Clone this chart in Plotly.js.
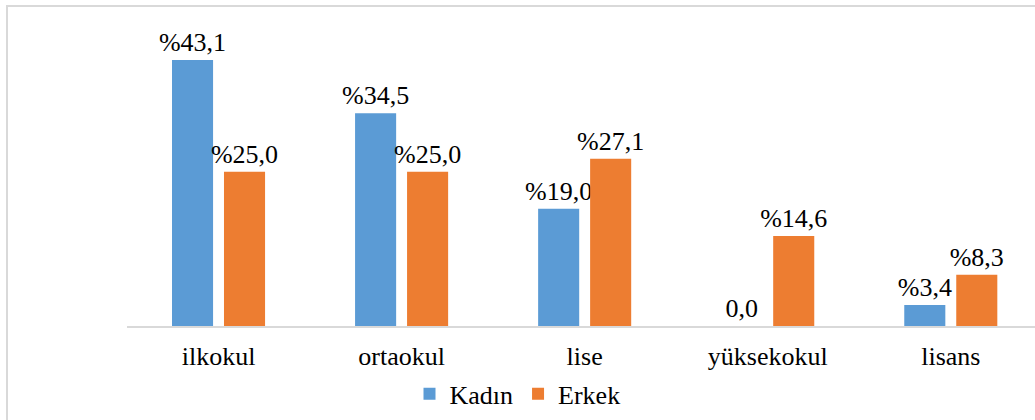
<!DOCTYPE html>
<html>
<head>
<meta charset="utf-8">
<script src="https://cdn.plot.ly/plotly-3.0.1.min.js"></script>
<style>
html,body{margin:0;padding:0;overflow:hidden;background:#fff;}
#wrap{position:relative;width:1035px;height:420px;overflow:hidden;}
#chart{position:absolute;left:0;top:0;width:1035px;height:420px;}
#frame{position:absolute;left:6px;top:5px;width:1100px;height:500px;border:2px solid #d9d9d9;pointer-events:none;box-sizing:border-box;}
</style>
</head>
<body>
<div id="wrap"><div id="chart"></div><div id="frame"></div></div>
<script>
const categories = ['ilkokul', 'ortaokul', 'lise', 'yüksekokul', 'lisans'];
const kadin = [43.1, 34.5, 19.0, 0.0, 3.4];
const erkek = [25.0, 25.0, 27.1, 14.6, 8.3];
const seriesNames = ['Kadın', 'Erkek'];

function lab(v){
  const s = v.toFixed(1).replace('.', ',');
  return v === 0 ? s : '%' + s;
}

const FONT = 'Times New Roman, Liberation Serif, serif';

const traces = [
  {type:'bar', name:seriesNames[0], x:categories, y:kadin, text:kadin.map(lab),
   textposition:'outside', constraintext:'none', textangle:0, cliponaxis:false, marker:{color:'#5B9BD5'},
   textfont:{family:FONT, size:26, color:'#000'}, hoverinfo:'none'},
  {type:'bar', name:seriesNames[1], x:categories, y:erkek, text:erkek.map(lab),
   textposition:'outside', constraintext:'none', textangle:0, cliponaxis:false, marker:{color:'#ED7D31'},
   textfont:{family:FONT, size:26, color:'#000'}, hoverinfo:'none'}
];

const layout = {
  width:1035, height:420,
  margin:{l:127, r:0, t:20, b:94},
  paper_bgcolor:'rgba(0,0,0,0)', plot_bgcolor:'rgba(0,0,0,0)',
  font:{family:FONT, size:26, color:'#000'},
  barmode:'group', bargap:0.432, bargroupgap:0.21,
  xaxis:{range:[-0.5, 4.46], showline:true, linecolor:'#d9d9d9', linewidth:2,
         ticks:'', showgrid:false, zeroline:false, ticklabelstandoff:6,
         tickfont:{family:FONT, size:26, color:'#000'}},
  yaxis:{range:[0, 49.6], visible:false, showgrid:false, zeroline:false},
  showlegend:true,
  legend:{orientation:'h', xref:'container', yref:'container', x:0.5, y:0.062,
          xanchor:'center', yanchor:'middle', font:{family:FONT, size:26, color:'#000'},
          itemwidth:30, traceorder:'normal'}
};

Plotly.newPlot('chart', traces, layout, {staticPlot:true, displayModeBar:false});
</script>
</body>
</html>
